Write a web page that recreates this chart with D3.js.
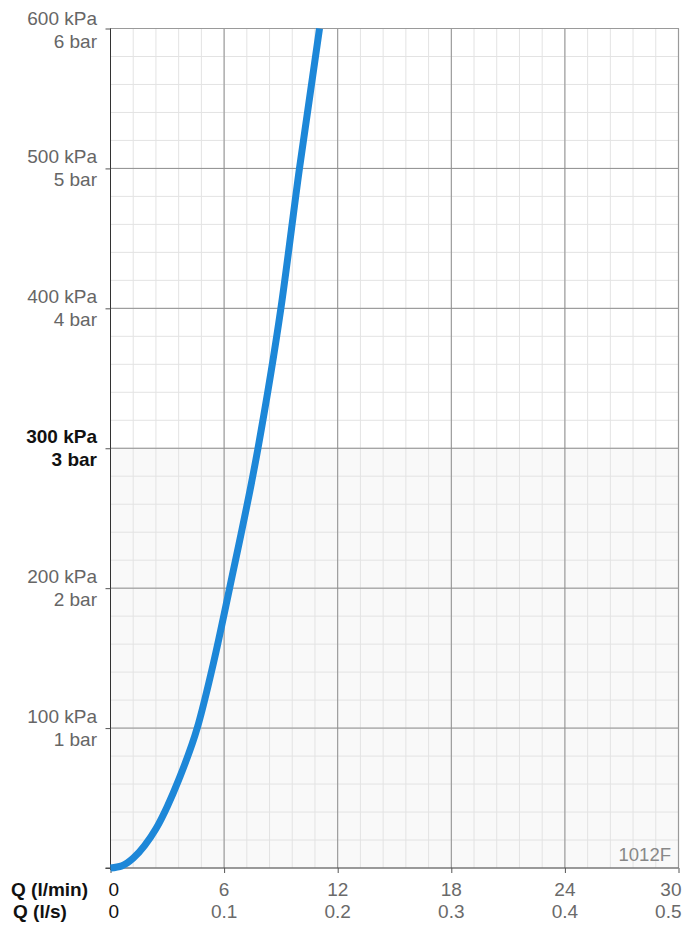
<!DOCTYPE html>
<html>
<head>
<meta charset="utf-8">
<script src="https://cdn.jsdelivr.net/npm/d3@7"></script>
<style>
  html, body { margin: 0; padding: 0; background: #fff; }
  svg { display: block; font-family: "Liberation Sans", Arial, Helvetica, sans-serif; }
</style>
</head>
<body>
<svg id="chart" width="692" height="934"></svg>
<script>
// Flow / pressure characteristic
const flowLpm     = [0, 0.6, 1.2, 1.8, 2.4, 3.0, 3.6, 4.58, 5.43, 6.29, 7.79, 9.0, 9.98, 11.04];
const pressureKpa = [0, 1.5, 7,   16,  28,  44,  63,  100,  146,  200,  300,  400, 500,  600];

// Axis ticks and labels
const pressureTicks = [100, 200, 300, 400, 500, 600];
const kpaLabels     = ["100 kPa", "200 kPa", "300 kPa", "400 kPa", "500 kPa", "600 kPa"];
const barLabels     = ["1 bar", "2 bar", "3 bar", "4 bar", "5 bar", "6 bar"];
const flowTicks     = [0, 6, 12, 18, 24, 30];
const lpmLabels     = ["0", "6", "12", "18", "24", "30"];
const lpsLabels     = ["0", "0.1", "0.2", "0.3", "0.4", "0.5"];
const highlightKpa  = 300;
const modelCode     = "1012F";

const svg = d3.select("#chart");
const plotL = 110.5, plotR = 678.5, plotT = 28.5, plotB = 868;

const x = d3.scaleLinear().domain([0, 30]).range([plotL, plotR]);
const y = d3.scaleLinear().domain([0, 600]).range([plotB, plotT]);

// shaded band below the nominal pressure
svg.append("rect")
  .attr("x", plotL).attr("y", y(highlightKpa))
  .attr("width", plotR - plotL).attr("height", plotB - y(highlightKpa))
  .attr("fill", "#f9f9f9");

// minor grid
const minorX = d3.range(0, 30.001, 1.2);
const minorY = d3.range(0, 600.001, 20);
const grid = svg.append("g");
grid.selectAll("line.mx").data(minorX).join("line")
  .attr("x1", d => x(d)).attr("x2", d => x(d))
  .attr("y1", plotT).attr("y2", plotB)
  .attr("stroke", "#e3e3e3").attr("stroke-width", 1);
grid.selectAll("line.my").data(minorY).join("line")
  .attr("x1", plotL).attr("x2", plotR)
  .attr("y1", d => y(d)).attr("y2", d => y(d))
  .attr("stroke", "#e3e3e3").attr("stroke-width", 1);

// major grid
grid.selectAll("line.Mx").data(flowTicks).join("line")
  .attr("x1", d => x(d)).attr("x2", d => x(d))
  .attr("y1", plotT).attr("y2", plotB)
  .attr("stroke", "#8f8f8f").attr("stroke-width", 1);
grid.selectAll("line.My").data(pressureTicks).join("line")
  .attr("x1", plotL).attr("x2", plotR)
  .attr("y1", d => y(d)).attr("y2", d => y(d))
  .attr("stroke", "#8f8f8f").attr("stroke-width", 1);

// frame: grey top/right, dark left/bottom
svg.append("line").attr("x1", plotL).attr("x2", plotR).attr("y1", plotT).attr("y2", plotT)
  .attr("stroke", "#9a9a9a").attr("stroke-width", 1.2);
svg.append("line").attr("x1", plotR).attr("x2", plotR).attr("y1", plotT).attr("y2", plotB)
  .attr("stroke", "#9a9a9a").attr("stroke-width", 1.2);

// axes (tick marks only; labels drawn below)
const yAxis = svg.append("g").attr("transform", `translate(${plotL},0)`)
  .call(d3.axisLeft(y).tickValues([0].concat(pressureTicks)).tickSize(5).tickFormat(""));
yAxis.select(".domain").attr("stroke", "#333").attr("d", `M0,${plotT}V${plotB + 2}`);
yAxis.selectAll(".tick line").attr("stroke", "#555");

const xAxis = svg.append("g").attr("transform", `translate(0,${plotB})`)
  .call(d3.axisBottom(x).tickValues(flowTicks).tickSize(5).tickFormat(""));
xAxis.select(".domain").attr("stroke", "#444").attr("d", `M${plotL - 5},0H${plotR}`);
xAxis.selectAll(".tick line").attr("stroke", "#555");

// curve
const pts = flowLpm.map((q, i) => [q, pressureKpa[i]]);
svg.append("path")
  .datum(pts)
  .attr("fill", "none")
  .attr("stroke", "#1d87d8")
  .attr("stroke-width", 7)
  .attr("stroke-linecap", "butt")
  .attr("d", d3.line().x(d => x(d[0])).y(d => y(d[1])).curve(d3.curveMonotoneX));

// pressure labels
const fs = 19;
const yl = svg.append("g").attr("font-size", fs).attr("text-anchor", "end");
pressureTicks.forEach((p, i) => {
  const hi = p === highlightKpa;
  const ty = y(p);
  const b1 = Math.max(ty - 5, 25);
  const g = yl.append("text")
    .attr("fill", hi ? "#111" : "#666")
    .attr("font-weight", hi ? "bold" : "normal");
  g.append("tspan").attr("x", 97).attr("y", b1).text(kpaLabels[i]);
  g.append("tspan").attr("x", 97).attr("y", b1 + 23).text(barLabels[i]);
});

// flow labels
const xl = svg.append("g").attr("font-size", fs);
const anchorFor = i => i === 0 ? "start" : (i === flowTicks.length - 1 ? "end" : "middle");
const xPos = i => i === 0 ? x(flowTicks[i]) - 2 : (i === flowTicks.length - 1 ? x(flowTicks[i]) + 3 : x(flowTicks[i]));
flowTicks.forEach((q, i) => {
  xl.append("text").attr("x", xPos(i)).attr("y", 896)
    .attr("text-anchor", anchorFor(i))
    .attr("fill", i === 0 ? "#111" : "#6a6a6a").text(lpmLabels[i]);
  xl.append("text").attr("x", xPos(i)).attr("y", 918)
    .attr("text-anchor", anchorFor(i))
    .attr("fill", i === 0 ? "#111" : "#6a6a6a").text(lpsLabels[i]);
});

// axis titles
svg.append("text").attr("x", 11).attr("y", 896).attr("font-size", fs)
  .attr("font-weight", "bold").attr("fill", "#111").text("Q (l/min)");
svg.append("text").attr("x", 13).attr("y", 918).attr("font-size", fs)
  .attr("font-weight", "bold").attr("fill", "#111").text("Q (l/s)");

// model code
svg.append("text").attr("x", 671).attr("y", 861).attr("font-size", 18.5)
  .attr("text-anchor", "end").attr("fill", "#888").text(modelCode);
</script>
</body>
</html>
